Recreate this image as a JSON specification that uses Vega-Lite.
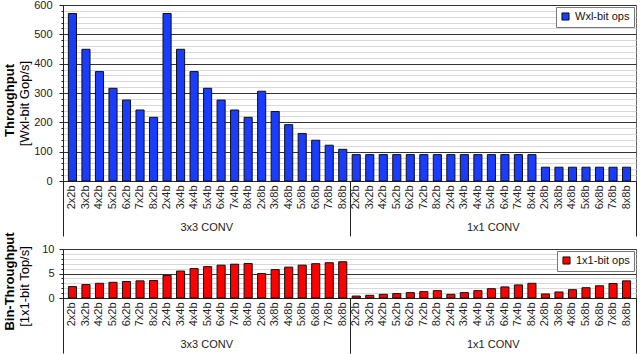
{
  "$schema": "https://vega.github.io/schema/vega-lite/v6.json",
  "background": "white",
  "padding": {"left": 3, "top": -2, "right": 4, "bottom": 0},
  "config": {
    "font": "Liberation Sans",
    "view": {"stroke": "#666", "strokeWidth": 1},
    "axis": {"labelColor": "#222", "titleColor": "#000", "labelFontSize": 11, "titleFontSize": 13, "domainColor": "#222", "tickColor": "#222"},
    "legend": {"labelColor": "#111"}
  },
  "datasets": {
    "d": [
      {"g": "3x3 CONV", "k": "3x3 CONV|2x2b", "wx": 571, "bin": 2.33},
      {"g": "3x3 CONV", "k": "3x3 CONV|3x2b", "wx": 449, "bin": 2.74},
      {"g": "3x3 CONV", "k": "3x3 CONV|4x2b", "wx": 373, "bin": 3.0},
      {"g": "3x3 CONV", "k": "3x3 CONV|5x2b", "wx": 316, "bin": 3.2},
      {"g": "3x3 CONV", "k": "3x3 CONV|6x2b", "wx": 276, "bin": 3.36},
      {"g": "3x3 CONV", "k": "3x3 CONV|7x2b", "wx": 242, "bin": 3.5},
      {"g": "3x3 CONV", "k": "3x3 CONV|8x2b", "wx": 217, "bin": 3.56},
      {"g": "3x3 CONV", "k": "3x3 CONV|2x4b", "wx": 571, "bin": 4.6},
      {"g": "3x3 CONV", "k": "3x3 CONV|3x4b", "wx": 449, "bin": 5.5},
      {"g": "3x3 CONV", "k": "3x3 CONV|4x4b", "wx": 373, "bin": 6.0},
      {"g": "3x3 CONV", "k": "3x3 CONV|5x4b", "wx": 316, "bin": 6.4},
      {"g": "3x3 CONV", "k": "3x3 CONV|6x4b", "wx": 276, "bin": 6.7},
      {"g": "3x3 CONV", "k": "3x3 CONV|7x4b", "wx": 242, "bin": 6.9},
      {"g": "3x3 CONV", "k": "3x3 CONV|8x4b", "wx": 217, "bin": 7.05},
      {"g": "3x3 CONV", "k": "3x3 CONV|2x8b", "wx": 306, "bin": 5.0},
      {"g": "3x3 CONV", "k": "3x3 CONV|3x8b", "wx": 237, "bin": 5.8},
      {"g": "3x3 CONV", "k": "3x3 CONV|4x8b", "wx": 192, "bin": 6.3},
      {"g": "3x3 CONV", "k": "3x3 CONV|5x8b", "wx": 162, "bin": 6.7},
      {"g": "3x3 CONV", "k": "3x3 CONV|6x8b", "wx": 139, "bin": 7.0},
      {"g": "3x3 CONV", "k": "3x3 CONV|7x8b", "wx": 122, "bin": 7.2},
      {"g": "3x3 CONV", "k": "3x3 CONV|8x8b", "wx": 108, "bin": 7.4},
      {"g": "1x1 CONV", "k": "1x1 CONV|2x2b", "wx": 90, "bin": 0.4},
      {"g": "1x1 CONV", "k": "1x1 CONV|3x2b", "wx": 90, "bin": 0.55},
      {"g": "1x1 CONV", "k": "1x1 CONV|4x2b", "wx": 90, "bin": 0.75},
      {"g": "1x1 CONV", "k": "1x1 CONV|5x2b", "wx": 90, "bin": 0.9},
      {"g": "1x1 CONV", "k": "1x1 CONV|6x2b", "wx": 90, "bin": 1.1},
      {"g": "1x1 CONV", "k": "1x1 CONV|7x2b", "wx": 90, "bin": 1.3},
      {"g": "1x1 CONV", "k": "1x1 CONV|8x2b", "wx": 90, "bin": 1.5},
      {"g": "1x1 CONV", "k": "1x1 CONV|2x4b", "wx": 90, "bin": 0.75},
      {"g": "1x1 CONV", "k": "1x1 CONV|3x4b", "wx": 90, "bin": 1.1},
      {"g": "1x1 CONV", "k": "1x1 CONV|4x4b", "wx": 90, "bin": 1.5},
      {"g": "1x1 CONV", "k": "1x1 CONV|5x4b", "wx": 90, "bin": 1.9},
      {"g": "1x1 CONV", "k": "1x1 CONV|6x4b", "wx": 90, "bin": 2.26},
      {"g": "1x1 CONV", "k": "1x1 CONV|7x4b", "wx": 90, "bin": 2.67},
      {"g": "1x1 CONV", "k": "1x1 CONV|8x4b", "wx": 90, "bin": 3.0},
      {"g": "1x1 CONV", "k": "1x1 CONV|2x8b", "wx": 47, "bin": 0.82},
      {"g": "1x1 CONV", "k": "1x1 CONV|3x8b", "wx": 47, "bin": 1.23},
      {"g": "1x1 CONV", "k": "1x1 CONV|4x8b", "wx": 47, "bin": 1.7},
      {"g": "1x1 CONV", "k": "1x1 CONV|5x8b", "wx": 47, "bin": 2.1},
      {"g": "1x1 CONV", "k": "1x1 CONV|6x8b", "wx": 47, "bin": 2.5},
      {"g": "1x1 CONV", "k": "1x1 CONV|7x8b", "wx": 47, "bin": 2.95},
      {"g": "1x1 CONV", "k": "1x1 CONV|8x8b", "wx": 47, "bin": 3.5}
    ]
  },
  "data": {"name": "d"},
  "bounds": "flush",
  "spacing": 68,
  "resolve": {"scale": {"color": "independent"}, "legend": {"color": "independent"}},
  "vconcat": [
    {
      "width": 573,
      "height": 176,
      "layer": [
        {
          "mark": {"type": "bar", "stroke": "#111", "strokeWidth": 1},
          "encoding": {
            "x": {"field": "k", "type": "nominal", "sort": null,
              "scale": {"paddingInner": 0.4, "paddingOuter": 0.4},
              "axis": {"title": null, "labelExpr": "split(datum.value, '|')[1]", "labelAngle": -90, "ticks": false, "labelPadding": 4, "grid": false}},
            "y": {"field": "wx", "type": "quantitative", "scale": {"domain": [0, 600], "nice": false},
              "axis": {"orient": "left", "values": [0, 100, 200, 300, 400, 500, 600], "grid": true, "gridColor": "#333", "gridOpacity": 1, "tickSize": 4, "labelPadding": 7, "title": "[Wxl-bit Gop/s]", "titleFontWeight": "normal", "titlePadding": 2, "titleY": 98}},
            "color": {"datum": "Wxl-bit ops", "type": "nominal", "scale": {"range": ["#1a3cff"]},
              "legend": {"title": null, "orient": "top-right", "offset": 2, "fillColor": "white", "strokeColor": "#777", "padding": 4, "labelFontSize": 11, "symbolType": "square", "symbolSize": 50, "symbolStrokeColor": "#111", "symbolStrokeWidth": 1, "symbolOpacity": 1}}
          }
        },
        {
          "mark": {"type": "tick", "opacity": 0},
          "encoding": {
            "x": {"field": "g", "type": "nominal", "sort": ["3x3 CONV", "1x1 CONV"],
              "scale": {"paddingInner": 0, "paddingOuter": 0},
              "axis": {"orient": "bottom", "title": null, "labelAngle": 0, "domain": false, "tickBand": "extent", "tickSize": 55, "labelPadding": -15, "grid": false}},
            "y": {"field": "wx", "type": "quantitative", "scale": {"domain": [0, 600], "nice": false},
              "axis": {"orient": "left", "values": [20, 40, 60, 80, 120, 140, 160, 180, 220, 240, 260, 280, 320, 340, 360, 380, 420, 440, 460, 480, 520, 540, 560, 580], "grid": true, "gridColor": "#d8d8d8", "gridOpacity": 1, "tickSize": 2, "labels": false, "domain": false, "title": "Throughput", "titleFontWeight": "bold", "titlePadding": 44, "titleY": 95}}
          }
        }
      ],
      "resolve": {"scale": {"x": "independent", "y": "independent"}}
    },
    {
      "width": 573,
      "height": 49,
      "layer": [
        {
          "mark": {"type": "bar", "stroke": "#111", "strokeWidth": 1},
          "encoding": {
            "x": {"field": "k", "type": "nominal", "sort": null,
              "scale": {"paddingInner": 0.4, "paddingOuter": 0.4},
              "axis": {"title": null, "labelExpr": "split(datum.value, '|')[1]", "labelAngle": -90, "ticks": false, "labelPadding": 4, "grid": false}},
            "y": {"field": "bin", "type": "quantitative", "scale": {"domain": [0, 10], "nice": false},
              "axis": {"orient": "left", "values": [0, 5, 10], "grid": true, "gridColor": "#333", "gridOpacity": 1, "tickSize": 4, "labelPadding": 5, "title": "[1x1-bit Top/s]", "titleFontWeight": "normal", "titlePadding": 10, "titleY": 37}},
            "color": {"datum": "1x1-bit ops", "type": "nominal", "scale": {"range": ["#ff0000"]},
              "legend": {"title": null, "orient": "top-right", "offset": 2, "fillColor": "white", "strokeColor": "#777", "padding": 4, "labelFontSize": 11, "symbolType": "square", "symbolSize": 50, "symbolStrokeColor": "#111", "symbolStrokeWidth": 1, "symbolOpacity": 1}}
          }
        },
        {
          "mark": {"type": "tick", "opacity": 0},
          "encoding": {
            "x": {"field": "g", "type": "nominal", "sort": ["3x3 CONV", "1x1 CONV"],
              "scale": {"paddingInner": 0, "paddingOuter": 0},
              "axis": {"orient": "bottom", "title": null, "labelAngle": 0, "domain": false, "tickBand": "extent", "tickSize": 55, "labelPadding": -15, "grid": false}},
            "y": {"field": "bin", "type": "quantitative", "scale": {"domain": [0, 10], "nice": false},
              "axis": {"orient": "left", "values": [1, 2, 3, 4, 6, 7, 8, 9], "grid": true, "gridColor": "#d8d8d8", "gridOpacity": 1, "tickSize": 2, "labels": false, "domain": false, "title": "Bin-Throughput", "titleFontWeight": "bold", "titlePadding": 44, "titleY": 32}}
          }
        }
      ],
      "resolve": {"scale": {"x": "independent", "y": "independent"}}
    }
  ]
}
